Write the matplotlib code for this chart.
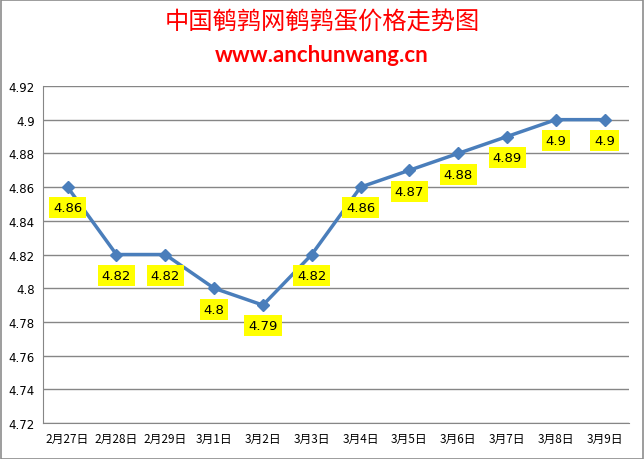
import matplotlib
matplotlib.use("Agg")
import matplotlib.pyplot as plt
from matplotlib.patches import Rectangle

plt.rcParams['font.family'] = ['Noto Sans CJK SC', 'DejaVu Sans']

# data
dates = ["2月27日", "2月28日", "2月29日", "3月1日", "3月2日", "3月3日",
         "3月4日", "3月5日", "3月6日", "3月7日", "3月8日", "3月9日"]
prices = [4.86, 4.82, 4.82, 4.80, 4.79, 4.82, 4.86, 4.87, 4.88, 4.89, 4.90, 4.90]
yticks = [4.72, 4.74, 4.76, 4.78, 4.80, 4.82, 4.84, 4.86, 4.88, 4.90, 4.92]

fig = plt.figure(figsize=(6.44, 4.6), dpi=100)
fig.patches.append(Rectangle((0.001, 0.001), 0.997, 0.997, transform=fig.transFigure,
                             fill=False, edgecolor="#8c8c8c", linewidth=1.2))
ax = fig.add_axes([0.067, 0.078, 0.91, 0.733])

x = list(range(len(dates)))
ax.plot(x, prices, color="#4a7ebb", linewidth=2.5, marker="D", markersize=6,
        zorder=3)

# value labels
for i, v in enumerate(prices):
    ax.annotate(f"{v:g}", (i, v), xytext=(0, -15), textcoords="offset points",
                ha="center", va="center", fontsize=9.5, family=['DejaVu Sans'],
                bbox=dict(boxstyle="square,pad=0.3", fc="#ffff00", ec="none"),
                zorder=4)

ax.set_xlim(-0.5, len(dates) - 0.5)
ax.set_ylim(4.72, 4.92)
ax.set_yticks(yticks)
ax.set_yticklabels([f"{t:g}" for t in yticks], fontsize=8.5, family=['DejaVu Sans'])
ax.set_xticks(x)
ax.set_xticklabels(dates, fontsize=8.5)
ax.tick_params(length=0, pad=6)
ax.yaxis.grid(True, color="#868686", linewidth=1)
ax.set_axisbelow(True)
for s in ["top", "right"]:
    ax.spines[s].set_visible(False)
for s in ["left", "bottom"]:
    ax.spines[s].set_color("#868686")

fig.text(0.5, 0.952, "中国鹌鹑网鹌鹑蛋价格走势图", color="#ff0000", fontsize=17.5,
         ha="center", va="center")
fig.text(0.5, 0.88, "www.anchunwang.cn", color="#ff0000", fontsize=16,
         ha="center", va="center", fontweight="bold", family=['Lato'])

fig.savefig("out.png", dpi=100)
